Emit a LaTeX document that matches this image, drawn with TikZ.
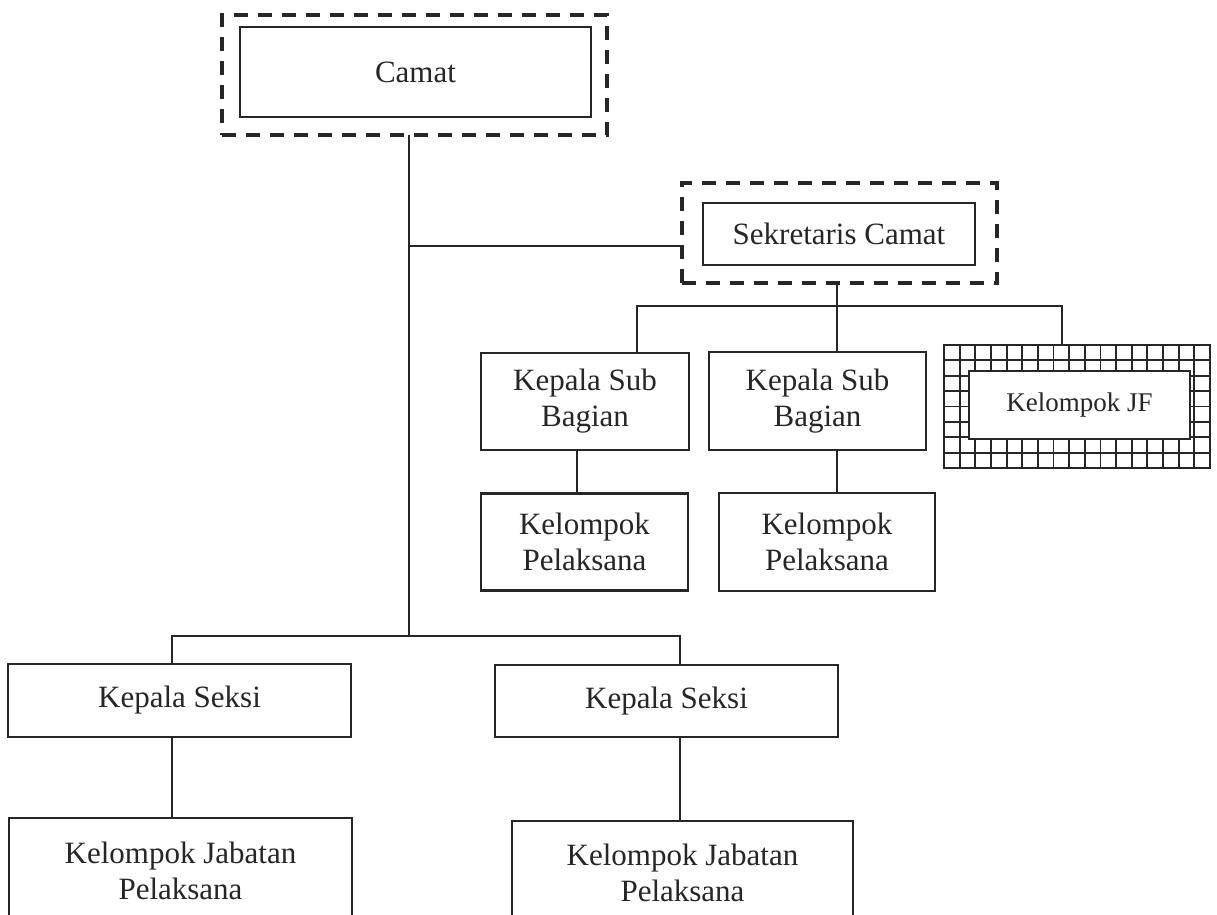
\documentclass[tikz,border=0pt]{standalone}
\usepackage{fontspec}
\setmainfont{Liberation Serif}
\usetikzlibrary{calc}
\tikzset{
  box/.style={draw, line width=2.8pt, fill=white, align=center, inner sep=0pt, outer sep=0pt},
  frame/.style={draw, line width=4.2pt, dash pattern=on 14pt off 10pt, outer sep=0pt},
  link/.style={line width=1.4pt},
  cell/.style={line width=1.9pt},
}

\begin{document}
\begin{tikzpicture}[x=1pt, y=-1pt, color=black!85, font=\fontsize{31}{36}\selectfont]
    \useasboundingbox (0,0) rectangle (1217,914);
    \clip (0,0) rectangle (1217,914);

    % coordinates to be reused
    \coordinate (trunk) at (409,636);
    \coordinate (sekjoin) at (409,246);
    \coordinate (subbar) at (837,306);
    \coordinate (subL) at (637,306);
    \coordinate (subR) at (1062,306);
    \coordinate (pelA) at (577,470);
    \coordinate (ksL) at (172,636);
    \coordinate (ksR) at (680,636);

    % camat and sekretaris
    \node [frame, minimum width=385pt, minimum height=120pt] (camatout) at (414.5,75) {};
    \node [box, minimum width=351pt, minimum height=90pt] (camat) at (415.5,72) {Camat};
    \node [frame, minimum width=315pt, minimum height=100pt] (sekout) at (839.5,233) {};
    \node [box, minimum width=272pt, minimum height=62pt] (sek) at (839,234) {Sekretaris Camat};

    % sub bagian row
    \node [box, minimum width=208pt, minimum height=97pt] (sub1) at (585,401.5) {Kepala Sub\\Bagian};
    \node [box, minimum width=217pt, minimum height=98pt] (sub2) at (817.5,401) {Kepala Sub\\Bagian};
    \node [draw, line width=2.8pt, outer sep=0pt, minimum width=266pt, minimum height=123pt] (jfout) at (1077,406.5) {};
    \foreach \i in {1,...,16}
      \draw [cell] ($(jfout.north west)+(\i*15.647,0)$) -- ++(0,123);
    \foreach \j in {1,...,7}
      \draw [cell] ($(jfout.north west)+(0,\j*15.375)$) -- ++(266,0);
    \node [box, line width=2.2pt, minimum width=221pt, minimum height=68pt, font=\fontsize{27}{32}\selectfont] (jf) at (1079.5,405) {Kelompok JF};
    \node [box, minimum width=207pt, minimum height=97pt] (pel1) at (584.5,542) {Kelompok\\Pelaksana};
    \node [box, minimum width=216pt, minimum height=98pt] (pel2) at (827,542) {Kelompok\\Pelaksana};

    % seksi row
    \node [box, minimum width=343pt, minimum height=73pt] (ks1) at (179.5,700.5) {Kepala Seksi};
    \node [box, minimum width=343pt, minimum height=72pt] (ks2) at (666.5,701) {Kepala Seksi};
    \node [box, minimum width=343pt, minimum height=106pt] (jab1) at (180.5,871) {Kelompok Jabatan\\Pelaksana};
    \node [box, minimum width=341pt, minimum height=103pt] (jab2) at (682.5,872.5) {Kelompok Jabatan\\Pelaksana};

    % connectors
    \draw [link] (camatout.south -| trunk) -- (trunk);
    \draw [link] (sekjoin) -- (sekjoin -| sekout.west);
    \draw [link] (sekout.south -| subbar) -- (subbar);
    \draw [link] (sub1.north -| subL) -- (subL) -- (subR) -- (jfout.north -| subR);
    \draw [link] (subbar) -- (sub2.north -| subbar);
    \draw [link] (sub1.south -| pelA) -- (pel1.north -| pelA);
    \draw [link] (sub2.south -| subbar) -- (pel2.north -| subbar);
    \draw [link] (ks1.north -| ksL) -- (ksL) -- (ksR) -- (ks2.north -| ksR);
    \draw [link] (ks1.south -| ksL) -- (jab1.north -| ksL);
    \draw [link] (ks2.south -| ksR) -- (jab2.north -| ksR);
\end{tikzpicture}
\end{document}
